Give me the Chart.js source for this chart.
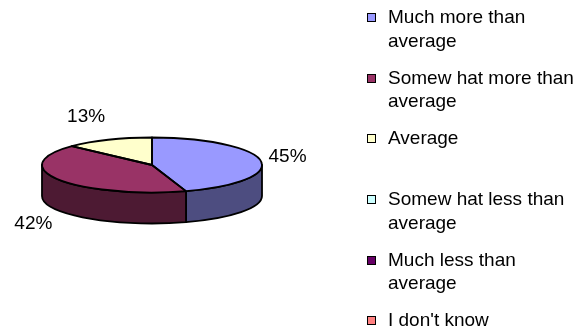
<!DOCTYPE html>
<html>
<head>
<meta charset="utf-8">
<script src="https://cdn.jsdelivr.net/npm/chart.js@4/dist/chart.umd.min.js"></script>
<style>
  html, body { margin: 0; padding: 0; background: #fff; }
  #wrap { position: relative; width: 579px; height: 333px; overflow: hidden; }
  #pie { position: absolute; left: 0; top: 0; }
  #legend { position: absolute; left: 367px; top: 5px; width: 212px;
            font-family: Arial, "Liberation Sans", sans-serif; font-size: 19px; color: #000; }
  .item { position: relative; height: 60.7px; }
  .swatch { position: absolute; left: 0; top: 8px; width: 9px; height: 9px;
            box-sizing: border-box; border: 1px solid #000; }
  .text { position: absolute; left: 21px; top: 0; width: 191px; line-height: 23.5px; }
</style>
</head>
<body>
<div id="wrap">
  <canvas id="pie" width="579" height="333"></canvas>
  <div id="legend"></div>
</div>
<script>
// Survey answers and their share of responses (percent)
const categories = [
  'Much more than average',
  'Somew hat more than average',
  'Average',
  'Somew hat less than average',
  'Much less than average',
  "I don't know"
];
const shares = [45, 42, 13, 0, 0, 0];
const sliceColors = ['#9999FF', '#993366', '#FFFFCC', '#CCFFFF', '#660066', '#FF8080'];

const TILT = 0.25;   // vertical squash of the pie disc
const DEPTH = 31;    // thickness of the disc in pixels
const LABEL_FONT = '19px Arial, "Liberation Sans", sans-serif';

function shade(hex, f) {
  const n = parseInt(hex.slice(1), 16);
  const r = Math.round(((n >> 16) & 255) * f);
  const g = Math.round(((n >> 8) & 255) * f);
  const b = Math.round((n & 255) * f);
  return `rgb(${r},${g},${b})`;
}

// Draws the pie as a tilted disc: side walls first, squashed top face by Chart.js, then outlines and labels
const pie3d = {
  id: 'pie3d',
  beforeDatasetsDraw(chart) {
    const ctx = chart.ctx;
    const arcs = chart.getDatasetMeta(0).data;
    const cx = arcs[0].x, cy = arcs[0].y, r = arcs[0].outerRadius, ry = r * TILT;
    ctx.save();
    ctx.lineWidth = 1.8;
    ctx.strokeStyle = '#000';
    ctx.lineJoin = 'round';
    arcs.forEach((arc, i) => {
      const s = Math.max(arc.startAngle, 0);
      const e = Math.min(arc.endAngle, Math.PI);
      if (e - s <= 1e-6) return;
      ctx.beginPath();
      ctx.ellipse(cx, cy, r, ry, 0, s, e);
      ctx.lineTo(cx + r * Math.cos(e), cy + ry * Math.sin(e) + DEPTH);
      ctx.ellipse(cx, cy + DEPTH, r, ry, 0, e, s, true);
      ctx.closePath();
      ctx.fillStyle = shade(sliceColors[i], 0.5);
      ctx.fill();
      ctx.stroke();
    });
    ctx.restore();
    // squash the library-drawn top face into an ellipse
    ctx.save();
    ctx.translate(cx, cy);
    ctx.scale(1, TILT);
    ctx.translate(-cx, -cy);
  },
  afterDatasetsDraw(chart) {
    const ctx = chart.ctx;
    ctx.restore();
    const arcs = chart.getDatasetMeta(0).data;
    const cx = arcs[0].x, cy = arcs[0].y, r = arcs[0].outerRadius, ry = r * TILT;
    ctx.save();
    ctx.lineWidth = 1.8;
    ctx.strokeStyle = '#000';
    ctx.lineJoin = 'round';
    arcs.forEach((arc) => {
      if (arc.endAngle - arc.startAngle <= 1e-6) return;
      ctx.beginPath();
      ctx.moveTo(cx, cy);
      ctx.ellipse(cx, cy, r, ry, 0, arc.startAngle, arc.endAngle);
      ctx.closePath();
      ctx.stroke();
    });
    // percentage labels outside each slice, aligned away from the disc
    ctx.font = LABEL_FONT;
    ctx.fillStyle = '#000';
    ctx.textBaseline = 'middle';
    arcs.forEach((arc, i) => {
      const v = shares[i];
      if (!v) return;
      const mid = (arc.startAngle + arc.endAngle) / 2;
      const c = Math.cos(mid), sn = Math.sin(mid);
      ctx.textAlign = c >= 0 ? 'left' : 'right';
      const x = cx + (r + 8) * c;
      const y = cy + (ry + 25) * sn + (sn > 0 ? DEPTH : 0);
      ctx.fillText(v + '%', x, y);
    });
    ctx.restore();
  }
};

new Chart(document.getElementById('pie'), {
  type: 'pie',
  data: {
    labels: categories,
    datasets: [{
      data: shares,
      backgroundColor: sliceColors,
      borderWidth: 0
    }]
  },
  options: {
    responsive: false,
    animation: false,
    events: [],
    layout: { padding: { left: 42, right: 317, top: 55, bottom: 58 } },
    plugins: { legend: { display: false }, tooltip: { enabled: false } }
  },
  plugins: [pie3d]
});

// Legend on the right, one slot per answer
const legend = document.getElementById('legend');
categories.forEach((name, i) => {
  const item = document.createElement('div');
  item.className = 'item';
  const sw = document.createElement('div');
  sw.className = 'swatch';
  sw.style.background = sliceColors[i];
  const tx = document.createElement('div');
  tx.className = 'text';
  tx.textContent = name;
  item.appendChild(sw);
  item.appendChild(tx);
  legend.appendChild(item);
});
</script>
</body>
</html>
